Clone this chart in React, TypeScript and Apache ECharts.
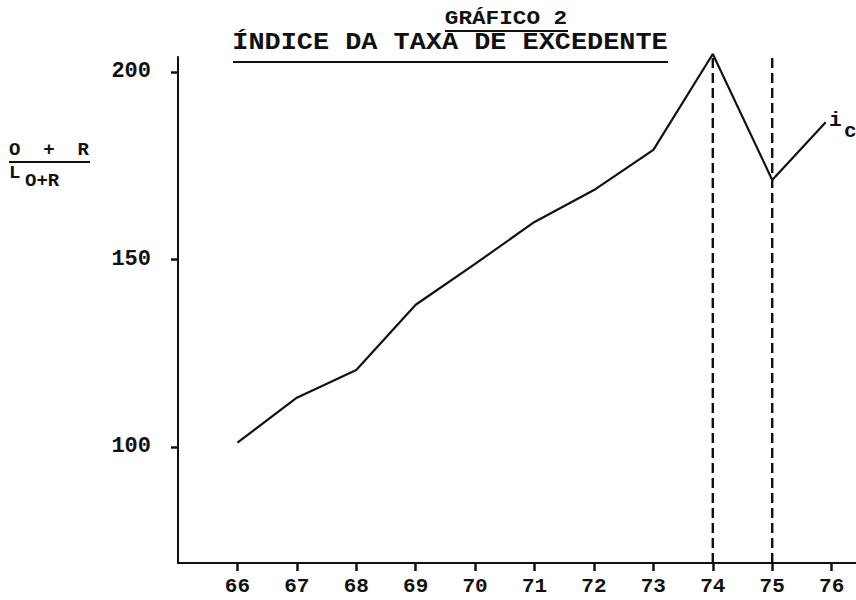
import React, { useEffect, useRef } from "react";
import * as echarts from "echarts";

const years = [66, 67, 68, 69, 70, 71, 72, 73, 74, 75, 75.9];
const indexValues = [101.1, 113.1, 120.5, 137.9, 148.8, 160, 168.5, 179.2, 204.8, 171.2, 186.6];
const yTickValues = [100, 150, 200];
const dashedYears = [74, 75];
const dashedTops = [204.8, 204.5];

const FONT = "'Liberation Mono', 'DejaVu Sans Mono', monospace";
const INK = "#111";

export default function App() {
  const ref = useRef<HTMLDivElement>(null);
  useEffect(() => {
    if (!ref.current) return;
    const chart = echarts.init(ref.current, null, { renderer: "svg" });
    const yMin = 69;
    const dashedSeries = dashedYears.map((yr, i) => ({
      type: "line",
      data: [
        [yr, yMin],
        [yr, dashedTops[i]],
      ],
      symbol: "none",
      clip: false,
      silent: true,
      lineStyle: { color: INK, width: 2.4, type: [10, 5] },
    }));
    chart.setOption({
      animation: false,
      backgroundColor: "#fff",
      grid: { left: 178, right: 0, top: 57, bottom: 37, containLabel: false },
      xAxis: {
        type: "value",
        min: 65,
        max: 76.41,
        interval: 1,
        splitLine: { show: false },
        axisLine: { show: true, lineStyle: { color: INK, width: 2 } },
        axisTick: { show: true, inside: false, length: 8, lineStyle: { color: INK, width: 2.5 } },
        axisLabel: {
          margin: 13,
          color: INK,
          fontFamily: FONT,
          fontSize: 21,
          fontWeight: "bold",
          showMinLabel: false,
          showMaxLabel: false,
          formatter: (v: number) => (v <= 65 || v > 76 ? "" : String(v)),
        },
      },
      yAxis: {
        type: "value",
        min: yMin,
        max: 204,
        splitLine: { show: false },
        axisLine: { show: true, lineStyle: { color: INK, width: 2 } },
        axisTick: { show: true, length: 7, lineStyle: { color: INK, width: 2.5 }, customValues: yTickValues },
        axisLabel: {
          customValues: yTickValues,
          margin: 27,
          color: INK,
          fontFamily: FONT,
          fontSize: 22,
          fontWeight: "bold",
        },
      },
      series: [
        {
          type: "line",
          data: years.map((y, i) => [y, indexValues[i]]),
          symbol: "none",
          clip: false,
          lineStyle: { color: INK, width: 2.2 },
        },
        ...dashedSeries,
      ],
      graphic: [
        {
          type: "text",
          x: 506,
          y: 19,
          scaleX: 1.08,
          style: { text: "GRÁFICO 2", x: 0, y: 0, align: "center", verticalAlign: "middle", font: `bold 21px ${FONT}`, fill: INK },
        },
        { type: "line", shape: { x1: 445, y1: 31, x2: 568, y2: 31 }, style: { stroke: INK, lineWidth: 2 } },
        {
          type: "text",
          x: 450,
          y: 43,
          scaleX: 1.12,
          style: { text: "ÍNDICE DA TAXA DE EXCEDENTE", x: 0, y: 0, align: "center", verticalAlign: "middle", font: `bold 24px ${FONT}`, fill: INK },
        },
        { type: "line", shape: { x1: 233, y1: 62, x2: 668, y2: 62 }, style: { stroke: INK, lineWidth: 2 } },
        {
          type: "text",
          x: 9,
          y: 150,
          style: { text: "O  +  R", x: 0, y: 0, align: "left", verticalAlign: "middle", font: `bold 19px ${FONT}`, fill: INK },
        },
        { type: "line", shape: { x1: 9, y1: 162, x2: 90, y2: 162 }, style: { stroke: INK, lineWidth: 2 } },
        {
          type: "text",
          x: 9,
          y: 173,
          style: { text: "L", x: 0, y: 0, align: "left", verticalAlign: "middle", font: `bold 19px ${FONT}`, fill: INK },
        },
        {
          type: "text",
          x: 25,
          y: 181,
          style: { text: "O+R", x: 0, y: 0, align: "left", verticalAlign: "middle", font: `bold 19px ${FONT}`, fill: INK },
        },
        {
          type: "text",
          x: 829,
          y: 120,
          style: { text: "i", x: 0, y: 0, align: "left", verticalAlign: "middle", font: `bold 21px ${FONT}`, fill: INK },
        },
        {
          type: "text",
          x: 844,
          y: 131,
          style: { text: "c", x: 0, y: 0, align: "left", verticalAlign: "middle", font: `bold 21px ${FONT}`, fill: INK },
        },
      ],
    });
    return () => chart.dispose();
  }, []);
  return <div ref={ref} style={{ position: "fixed", left: 0, top: 0, width: 856, height: 600 }} />;
}
